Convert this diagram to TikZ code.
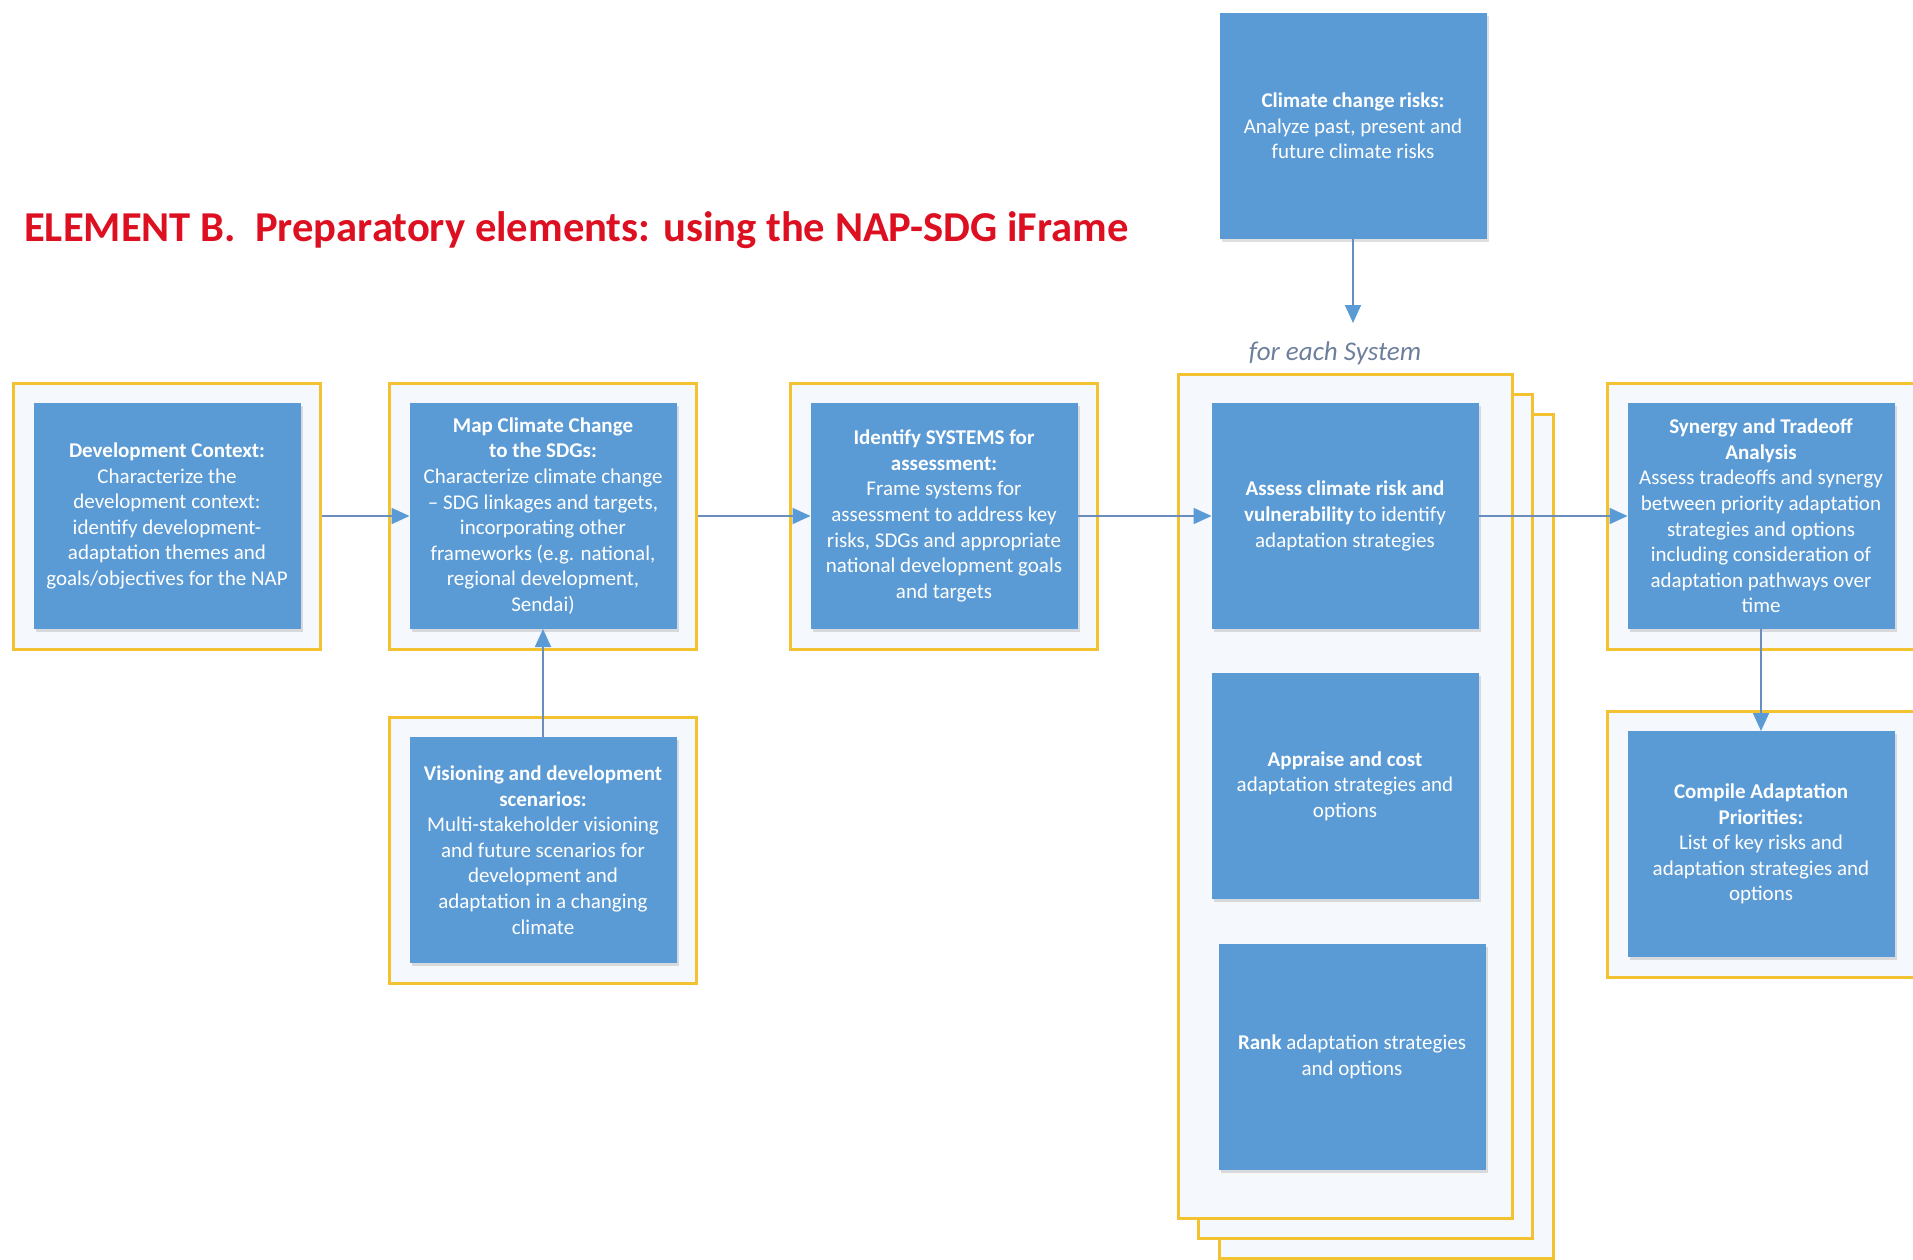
\documentclass[tikz,border=0pt]{standalone}
\usepackage{fontspec}
\setmainfont{Carlito}
\usepackage{xcolor}
\usepackage{tikz}
\usetikzlibrary{arrows.meta, positioning, fit, calc, backgrounds, shadows}
\definecolor{boxblue}{HTML}{5B9BD5}
\definecolor{lineblue}{HTML}{6A8DBE}
\definecolor{frameyellow}{HTML}{F2C230}
\definecolor{framefill}{HTML}{F5F8FC}
\definecolor{titlered}{HTML}{DD1021}
\definecolor{notegray}{HTML}{6E7F9C}
\tikzstyle{task} = [rectangle, minimum width=267pt, minimum height=226pt, inner sep=0pt, outer sep=0pt, align=center, text=white, fill=boxblue, font=\fontsize{21}{25.6}\selectfont, drop shadow={shadow xshift=2pt, shadow yshift=-3pt, opacity=0.25}]
\tikzstyle{frame} = [rectangle, draw=frameyellow, line width=3pt, fill=framefill, inner sep=20pt]
\tikzstyle{arrow} = [line width=1.8pt, draw=lineblue, -{Triangle[length=18pt, width=16pt, color=boxblue]}]

\begin{document}
\begin{tikzpicture}[x=1pt, y=1pt]
    \useasboundingbox (0,0) rectangle (1913,-1259);

    % Title
    \node (title) [anchor=base west, inner sep=0pt, text=titlered, font=\fontsize{42.6}{50}\selectfont\bfseries] at (24,-241) {ELEMENT B.\ \ Preparatory elements: using the NAP-SDG iFrame};

    % Define blocks
    \node (dev) [task] at (167,-516) {\textbf{Development Context:}\\ Characterize the\\ development context:\\ identify development-\\ adaptation themes and\\ goals/objectives for the NAP};
    \node (map) [task, right=109pt of dev] {\textbf{Map Climate Change}\\ \textbf{to the SDGs:}\\ Characterize climate change\\ -- SDG linkages and targets,\\ incorporating other\\ frameworks (e.g. national,\\ regional development,\\ Sendai)};
    \node (ident) [task, right=134pt of map] {\textbf{Identify SYSTEMS for}\\ \textbf{assessment:}\\ Frame systems for\\ assessment to address key\\ risks, SDGs and appropriate\\ national development goals\\ and targets};
    \node (assess) [task, right=134pt of ident] {\textbf{Assess climate risk and}\\ \textbf{vulnerability} to identify\\ adaptation strategies};
    \node (synergy) [task, right=149pt of assess] {\textbf{Synergy and Tradeoff}\\ \textbf{Analysis}\\ Assess tradeoffs and synergy\\ between priority adaptation\\ strategies and options\\ including consideration of\\ adaptation pathways over\\ time};
    \node (vision) [task, below=108pt of map] {\textbf{Visioning and development}\\ \textbf{scenarios:}\\ Multi-stakeholder visioning\\ and future scenarios for\\ development and\\ adaptation in a changing\\ climate};
    \node (appraise) [task, below=44pt of assess] {\textbf{Appraise and cost}\\ adaptation strategies and\\ options};
    \node (rank) [task, below=45pt of appraise, xshift=7pt] {\textbf{Rank} adaptation strategies\\ and options};
    \node (compile) [task, below=102pt of synergy] {\textbf{Compile Adaptation}\\ \textbf{Priorities:}\\ List of key risks and\\ adaptation strategies and\\ options};
    \node (risks) [task, above=164pt of assess, xshift=8pt] {\textbf{Climate change risks:}\\ Analyze past, present and\\ future climate risks};
    \coordinate [below=84pt of risks] (riskend);
    \node (each) [anchor=base, inner sep=0pt, text=notegray, font=\fontsize{27}{32}\selectfont\itshape] at (1335,-360) {for each System};

    % Yellow frames behind the blocks
    \begin{scope}[on background layer]
        \node (devframe) [frame, fit=(dev)] {};
        \node (mapframe) [frame, fit=(map)] {};
        \node (identframe) [frame, fit=(ident)] {};
        \node (visionframe) [frame, fit=(vision)] {};
        \node (synergyframe) [frame, fit=(synergy)] {};
        \node (compileframe) [frame, fit=(compile)] {};
        \coordinate (stacktl) at ($(assess.north west)+(-33.5,29)$);
        \coordinate (stackbr) at ($(rank.south east)+(26.5,-48)$);
        \draw [frame] ($(stacktl)+(41,-40)$) rectangle ($(stackbr)+(41,-40)$);
        \draw [frame] ($(stacktl)+(20,-20)$) rectangle ($(stackbr)+(20,-20)$);
        \draw [frame] (stacktl) rectangle (stackbr);
    \end{scope}

    % Draw arrows
    \draw [arrow] (devframe.east) -- (map.west);
    \draw [arrow] (mapframe.east) -- (ident.west);
    \draw [arrow] (ident.east) -- (assess.west);
    \draw [arrow] (assess.east) -- (synergy.west);
    \draw [arrow] (vision.north) -- (map.south);
    \draw [arrow] (risks.south) -- (riskend);
    \draw [arrow] (synergy.south) -- (compile.north);
\end{tikzpicture}
\end{document}
